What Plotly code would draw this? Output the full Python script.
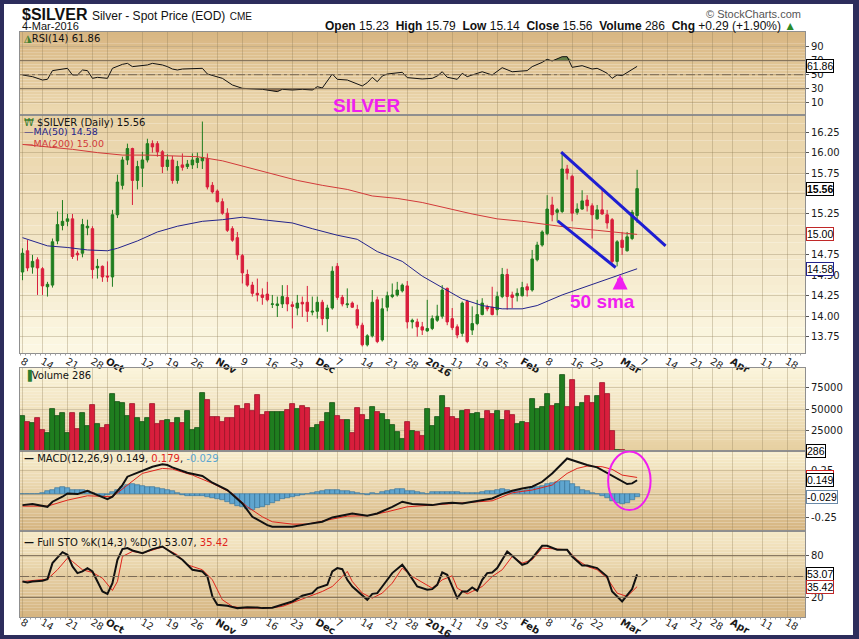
import plotly.graph_objects as go

# ---------------- DATA ----------------
# trading-day index 0 = 8-Sep-2015 ... 123 = 4-Mar-2016
opens = [14.54,14.80,14.60,14.69,14.58,14.36,14.38,14.92,15.11,15.16,
         15.19,14.77,14.77,15.08,15.07,14.59,14.61,14.49,14.48,15.24,
         15.60,15.91,16.05,15.66,15.81,15.91,16.11,16.11,16.01,15.83,
         15.91,15.66,15.85,15.83,15.85,15.88,15.90,15.93,15.60,15.53,
         15.40,15.26,15.07,14.96,14.74,14.51,14.38,14.28,14.26,14.27,
         14.145,14.13,14.15,14.23,14.14,14.10,14.17,14.17,14.05,14.06,
         14.17,13.97,14.10,14.61,14.23,14.14,14.16,14.08,13.89,13.65,
         13.76,14.20,13.71,14.11,14.24,14.26,14.31,14.37,13.93,13.93,
         13.87,13.82,13.85,13.95,14.00,14.34,13.97,13.87,13.79,14.18,
         13.83,13.91,14.02,14.11,14.11,14.08,14.24,14.51,14.26,14.25,
         14.25,14.36,14.32,14.69,14.87,15.01,15.36,15.27,15.28,15.80,
         15.71,15.27,15.31,15.42,15.35,15.19,15.30,15.24,15.18,14.67,
         14.93,14.80,14.95,15.23]
highs = [14.83,14.93,14.75,14.72,14.60,14.42,14.95,15.28,15.42,15.25,
         15.25,14.80,15.19,15.18,15.10,14.70,14.62,14.67,15.30,15.73,
         15.95,16.11,16.06,15.90,16.01,16.17,16.15,16.14,16.03,15.98,
         15.96,15.90,15.99,15.91,15.99,16.00,16.38,15.99,15.64,15.55,
         15.44,15.32,15.10,15.03,14.76,14.57,14.42,14.46,14.34,14.42,
         14.26,14.24,14.38,14.38,14.18,14.26,14.24,14.37,14.24,14.24,
         14.20,14.14,14.61,14.65,14.26,14.34,14.18,14.14,13.92,13.78,
         14.32,14.24,14.22,14.30,14.40,14.42,14.40,14.43,13.97,13.97,
         13.93,14.20,14.01,14.14,14.38,14.35,14.10,13.90,14.18,14.20,
         14.12,14.20,14.22,14.14,14.36,14.30,14.59,14.58,14.30,14.34,
         14.42,14.40,14.81,14.91,15.05,15.48,15.46,15.32,16.01,15.85,
         15.73,15.38,15.54,15.48,15.38,15.36,15.56,15.30,15.20,14.93,
         15.03,15.03,15.30,15.79]
lows = [14.44,14.55,14.52,14.26,14.26,14.24,14.35,14.88,15.05,15.10,
        14.70,14.68,14.72,14.99,14.46,14.46,14.42,14.42,14.36,15.20,
        15.55,15.85,15.36,15.55,15.58,15.88,16.00,15.95,15.75,15.78,
        15.62,15.62,15.78,15.80,15.80,15.81,15.80,15.55,15.50,15.39,
        15.24,15.03,14.91,14.69,14.40,14.36,14.24,14.18,14.14,14.18,
        14.10,13.99,14.10,14.06,13.85,14.01,13.99,13.93,14.01,13.97,
        13.89,13.81,14.08,14.20,14.12,14.10,14.10,13.85,13.63,13.63,
        13.74,13.67,13.69,14.06,14.22,14.24,14.29,13.85,13.85,13.75,
        13.77,13.81,13.83,13.93,13.97,13.89,13.83,13.73,13.75,13.67,
        13.77,13.89,14.01,14.06,14.01,14.01,14.22,14.08,14.10,14.18,
        14.24,14.24,14.30,14.67,14.85,14.99,15.16,15.16,15.26,15.67,
        15.16,15.24,15.30,15.28,14.95,15.18,15.24,15.07,14.65,14.61,
        14.75,14.79,14.93,15.14]
closes = [14.77,14.59,14.67,14.59,14.37,14.39,14.91,15.12,15.16,15.19,
          14.73,14.75,15.12,15.10,14.57,14.61,14.48,14.48,15.24,15.64,
          15.91,16.05,15.66,15.83,15.91,16.11,16.07,16.01,15.83,15.91,
          15.66,15.83,15.82,15.86,15.91,15.93,15.94,15.58,15.52,15.40,
          15.26,15.05,14.93,14.75,14.53,14.38,14.28,14.26,14.23,14.20,
          14.15,14.15,14.24,14.15,14.12,14.16,14.15,14.06,14.06,14.17,
          13.97,14.10,14.55,14.23,14.15,14.15,14.11,13.89,13.65,13.76,
          14.17,13.69,14.09,14.25,14.26,14.32,14.38,13.93,13.95,13.87,
          13.83,13.85,13.97,14.00,14.32,13.93,13.86,13.77,14.16,13.69,
          13.91,14.02,14.16,14.09,14.02,14.24,14.51,14.24,14.23,14.28,
          14.35,14.32,14.70,14.87,15.03,15.31,15.24,15.30,15.80,15.75,
          15.26,15.31,15.41,15.35,15.24,15.30,15.25,15.14,14.67,14.91,
          14.84,14.97,15.27,15.56]
volume = [41660,34920,32930,38890,25000,21030,49600,41660,44840,21820,
          44840,25790,44840,29760,54760,32140,26980,30950,67460,57930,
          56740,41660,55950,39680,34920,38890,55550,32140,36110,36900,
          32930,38890,32930,47620,25000,27380,68650,60710,40080,40870,
          34920,39680,39680,53570,49600,55950,48010,66660,42850,46030,
          46030,46030,46030,48810,55950,49600,53570,50790,27780,30950,
          34520,45630,57540,41660,36900,36900,21030,50790,42850,36900,
          51980,46430,44040,36900,30950,22220,13890,34920,23810,23010,
          17860,49600,29760,40080,65470,50790,40080,37700,47620,48810,
          44040,44840,37700,47620,44040,47620,36900,48010,42460,32140,
          34520,33330,61500,49600,52770,67850,53570,55950,90070,52770,
          84520,51980,57540,65470,56740,65470,80550,67850,23810,900,
          700,600,500,286]

ma50_idx = [0,3,5,9,13,17,19,23,27,31,36,40,44,48,54,58,63,67,71,76,80,84,88,92,96,100,103,108,114,118,123]
ma50_val = [14.96,14.90,14.86,14.84,14.81,14.80,14.83,14.92,15.03,15.10,15.16,15.18,15.21,15.18,15.14,15.07,
            14.99,14.94,14.79,14.67,14.49,14.35,14.21,14.13,14.09,14.09,14.13,14.26,14.39,14.47,14.58]
ma200_idx = [0,5,10,15,20,25,30,35,40,45,50,55,60,65,70,75,80,85,90,95,100,105,110,115,120,123]
ma200_val = [16.10,16.07,16.04,16.00,15.97,15.97,15.96,15.95,15.90,15.82,15.74,15.66,15.60,15.55,15.47,15.44,
             15.39,15.32,15.25,15.19,15.16,15.12,15.08,15.05,15.02,15.00]

rsi_idx = [0,2,4,5,6,8,9,10,11,12,13,14,15,17,18,20,21,22,24,25,26,28,29,30,31,32,36,37,40,42,44,48,51,52,54,
           56,58,59,60,62,63,65,68,69,70,71,72,73,76,77,80,82,83,84,85,87,88,89,90,92,94,96,98,101,102,104,105,
           106,108,109,110,112,114,115,116,117,118,119,120,121,123]
rsi_val = [49.6,47.2,42.4,43.4,55.8,58.1,59.1,49.6,49.6,56.7,55.8,44.8,46.2,44.8,59.1,64.8,66.2,61.5,62.9,63.9,
           66.2,63.9,61.5,58.1,56.7,58.1,59.1,51.0,44.8,35.3,30.5,29.1,25.8,29.1,28.1,29.1,28.1,32.9,31.0,51.0,
           43.4,42.4,33.9,38.6,46.2,40.0,48.1,51.0,53.4,45.8,43.9,44.8,48.1,54.2,46.3,43.4,52.0,47.2,49.6,54.2,
           49.6,60.0,54.2,55.8,61.5,67.6,72.0,69.6,75.7,75.7,60.5,62.9,58.1,59.1,55.8,52.0,44.8,49.6,48.6,52.9,61.86]

macd_idx = [0,2,5,6,8,9,11,13,15,17,18,20,21,24,26,28,29,30,33,36,38,41,44,46,49,50,54,57,60,62,64,66,69,71,74,
            76,78,82,84,86,88,90,92,94,96,98,100,102,104,106,108,109,111,113,115,117,119,121,122,123]
macd_val = [-0.115,-0.104,-0.133,-0.079,-0.026,0.009,0.002,0.038,-0.009,-0.051,-0.026,0.098,0.187,0.250,0.293,
            0.318,0.311,0.286,0.229,0.194,0.123,0.045,-0.097,-0.239,-0.328,-0.345,-0.345,-0.317,-0.292,-0.246,
            -0.221,-0.204,-0.228,-0.204,-0.133,-0.079,-0.104,-0.115,-0.097,-0.090,-0.097,-0.079,-0.062,-0.044,
            0.002,0.037,0.062,0.080,0.133,0.222,0.328,0.381,0.346,0.311,0.286,0.229,0.169,0.109,0.116,0.149]
signal_idx = [0,5,9,13,18,21,24,28,30,34,38,42,45,48,50,54,57,61,65,69,73,77,82,86,90,94,98,102,106,109,111,
              113,116,118,120,123]
signal_val = [-0.126,-0.126,-0.062,-0.016,-0.026,0.098,0.222,0.275,0.268,0.204,0.116,0.009,-0.133,-0.239,-0.292,
              -0.317,-0.317,-0.274,-0.232,-0.228,-0.186,-0.133,-0.115,-0.104,-0.090,-0.069,0.016,0.045,0.098,
              0.222,0.275,0.300,0.293,0.265,0.204,0.179]
hist_val = [0.0,0.0,0.0,0.0,0.01,0.03,0.05,0.07,0.08,0.07,
            0.05,0.05,0.05,0.04,0.01,-0.01,-0.02,-0.01,0.02,0.05,
            0.08,0.10,0.11,0.10,0.09,0.08,0.08,0.07,0.06,0.05,
            0.03,0.01,-0.01,-0.02,-0.02,-0.02,-0.02,-0.03,-0.04,-0.05,
            -0.06,-0.08,-0.10,-0.12,-0.14,-0.16,-0.17,-0.15,-0.13,-0.11,
            -0.09,-0.07,-0.05,-0.04,-0.03,-0.02,-0.01,0.0,0.01,0.02,
            0.04,0.05,0.05,0.05,0.04,0.03,0.02,0.01,0.0,-0.01,
            0.01,0.0,0.02,0.04,0.05,0.06,0.06,0.04,0.03,0.02,
            0.01,0.0,0.02,0.02,0.02,0.02,0.02,0.02,0.01,0.01,
            0.01,0.01,0.02,0.03,0.03,0.05,0.06,0.05,0.04,0.04,
            0.04,0.05,0.07,0.08,0.09,0.11,0.12,0.13,0.14,0.14,
            0.11,0.08,0.05,0.03,0.01,0.0,-0.02,-0.04,-0.07,-0.09,
            -0.10,-0.09,-0.06,-0.029]

stok_idx = [0,1,2,4,5,6,8,9,10,11,12,13,14,15,16,17,18,19,20,21,22,24,26,28,30,32,34,36,37,38,39,41,43,45,47,48,
            50,52,54,56,58,59,61,62,63,64,65,66,68,69,70,71,72,74,76,77,79,81,82,83,84,85,87,88,89,90,91,92,93,94,
            95,97,98,100,101,102,104,105,107,109,110,112,113,115,117,118,120,122,123]
stok_val = [42.8,41.4,42.8,43.8,46.2,69.3,85.1,81.3,64.5,54.9,57.3,62.1,57.3,42.8,28.4,25.0,40.4,74.1,89.5,90.9,
            87.5,83.7,89.5,93.3,83.7,74.1,59.7,57.3,50.0,21.2,9.2,7.7,4.4,5.8,5.3,4.4,4.9,9.2,14.0,22.2,26.0,33.2,
            38.0,57.3,62.1,60.6,45.2,35.6,23.6,16.4,25.0,26.0,35.6,54.9,66.9,57.3,35.6,30.8,31.8,38.0,55.8,52.4,
            18.8,28.4,28.4,34.2,29.3,45.2,54.9,55.8,62.1,86.1,79.8,66.9,69.3,76.5,94.3,94.3,88.5,88.5,78.9,65.9,
            65.9,62.1,50.0,28.4,14.0,31.8,53.07]
stod_idx = [0,5,7,9,10,12,14,16,18,19,20,22,24,27,28,31,33,36,38,40,42,44,49,52,54,57,60,62,64,65,66,68,70,72,
            74,76,78,82,84,86,87,89,90,92,94,96,98,100,102,104,107,109,111,113,115,117,119,121,123]
stod_val = [42.8,46.2,59.7,76.5,71.7,59.7,55.8,47.6,29.9,42.8,78.9,86.1,83.7,89.5,92.4,81.3,66.9,59.7,45.2,16.4,
            6.8,4.4,4.4,6.8,12.5,20.2,28.4,35.6,50.0,57.3,42.8,26.0,18.8,26.0,40.4,62.1,50.0,33.2,45.2,51.0,33.2,
            25.0,28.4,35.6,50.0,59.7,78.9,69.3,74.1,90.9,89.5,88.5,74.1,64.5,59.7,47.6,26.0,21.2,35.42]

tick_idx = [0,4,9,14,17,24,29,34,39,44,49,54,59,63,68,73,77,81,86,91,95,100,105,110,114,120,124,129,134,138,142,148,153]
tick_txt = ["8","14","21","28","Oct","12","19","26","Nov","9","16","23","Dec","7","14","21","28","2016",
            "11","19","25","Feb","8","16","22","Mar","7","14","21","28","Apr","11","18"]
bold_labels = {"Oct", "Nov", "Dec", "2016", "Feb", "Mar", "Apr"}

# right-axis labels (those fully covered by value tags in the reference are left blank)
rsi_ticks, rsi_ticktext = [10, 30, 50, 70, 90], ["10", "30", "50", "70", "90"]
price_ticks = [13.75, 14.00, 14.25, 14.50, 14.75, 15.00, 15.25, 15.50, 15.75, 16.00, 16.25]
price_ticktext = ["13.75", "14.00", "14.25", "14.50", "14.75", "", "15.25", "", "15.75", "16.00", "16.25"]
vol_ticks, vol_ticktext = [25000, 50000, 75000], ["25000", "50000", "75000"]
macd_ticks, macd_ticktext = [-0.25, 0, 0.25], ["-0.25", "", "0.25"]
sto_ticks, sto_ticktext = [20, 50, 80], ["20", "", "80"]

# ---------------- LAYOUT HELPERS ----------------
W, H = 859, 639
ML, MR, MT, MB = 20, 54, 32, 22
PW, PH = W - ML - MR, H - MT - MB


def py(ypx):
    return (H - MB - ypx) / PH


def pxx(xpx):
    return (xpx - ML) / PW


days = list(range(len(closes)))
ticktext = ["<b>%s</b>" % t if t in bold_labels else t for t in tick_txt]
GREEN, GREEN_D = "#1f7d1f", "#145214"
RED, RED_D = "#d81e3c", "#9a1428"
FONT = "DejaVu Sans"
HFONT = "Liberation Sans"

fig = go.Figure()

# RSI
rsi30 = [30 for _ in rsi_val]
rsi70 = [70 for _ in rsi_val]
fig.add_trace(go.Scatter(x=rsi_idx, y=rsi30, mode="lines", line=dict(width=0), xaxis="x", yaxis="y",
                         hoverinfo="skip", showlegend=False))
fig.add_trace(go.Scatter(x=rsi_idx, y=[min(v, 30) for v in rsi_val], mode="lines", line=dict(width=0),
                         fill="tonexty", fillcolor="rgba(120,85,55,0.75)", xaxis="x", yaxis="y",
                         hoverinfo="skip", showlegend=False))
fig.add_trace(go.Scatter(x=rsi_idx, y=rsi70, mode="lines", line=dict(width=0), xaxis="x", yaxis="y",
                         hoverinfo="skip", showlegend=False))
fig.add_trace(go.Scatter(x=rsi_idx, y=[max(v, 70) for v in rsi_val], mode="lines", line=dict(width=0),
                         fill="tonexty", fillcolor="rgba(70,110,50,0.8)", xaxis="x", yaxis="y",
                         hoverinfo="skip", showlegend=False))
fig.add_trace(go.Scatter(x=rsi_idx, y=rsi_val, mode="lines", line=dict(color="#111111", width=1),
                         xaxis="x", yaxis="y", showlegend=False))

# Price
fig.add_trace(go.Scatter(x=ma200_idx, y=ma200_val, mode="lines", line=dict(color="#d23a3a", width=1),
                         xaxis="x2", yaxis="y2", showlegend=False))
fig.add_trace(go.Scatter(x=ma50_idx, y=ma50_val, mode="lines", line=dict(color="#23238c", width=1),
                         xaxis="x2", yaxis="y2", showlegend=False))
fig.add_trace(go.Candlestick(x=days, open=opens, high=highs, low=lows, close=closes,
                             increasing=dict(line=dict(color=GREEN, width=1), fillcolor=GREEN),
                             decreasing=dict(line=dict(color=RED, width=1), fillcolor=RED),
                             xaxis="x2", yaxis="y2", showlegend=False))

# Volume
vcol = [GREEN if c >= o else RED for o, c in zip(opens, closes)]
vline = [GREEN_D if c >= o else RED_D for o, c in zip(opens, closes)]
fig.add_trace(go.Bar(x=days, y=volume, width=1.0, marker=dict(color=vcol, line=dict(color=vline, width=0.8)),
                     xaxis="x3", yaxis="y3", showlegend=False))

# MACD
fig.add_trace(go.Bar(x=days, y=hist_val, width=1.0,
                     marker=dict(color="#5fa5cf", line=dict(color="#2f6f98", width=0.6)),
                     xaxis="x4", yaxis="y4", showlegend=False))
fig.add_trace(go.Scatter(x=signal_idx, y=signal_val, mode="lines", line=dict(color="#e0241c", width=1),
                         xaxis="x4", yaxis="y4", showlegend=False))
fig.add_trace(go.Scatter(x=macd_idx, y=macd_val, mode="lines", line=dict(color="#111111", width=2),
                         xaxis="x4", yaxis="y4", showlegend=False))

# STO
fig.add_trace(go.Scatter(x=stod_idx, y=stod_val, mode="lines", line=dict(color="#e0241c", width=1),
                         xaxis="x5", yaxis="y5", showlegend=False))
fig.add_trace(go.Scatter(x=stok_idx, y=stok_val, mode="lines", line=dict(color="#111111", width=2),
                         xaxis="x5", yaxis="y5", showlegend=False))

# ---------------- AXES ----------------
XR = [-0.5, 156.6]
GRID = "rgba(140,120,85,0.32)"
LINE = "#8f8f8f"


def xax(anchor, labels, standoff=0):
    d = dict(range=XR, anchor=anchor, tickmode="array", tickvals=tick_idx, ticktext=ticktext,
             showticklabels=labels, showgrid=True, gridcolor=GRID, gridwidth=1, zeroline=False,
             showline=True, linecolor=LINE, mirror=True, ticks="", fixedrange=True, automargin=False,
             tickfont=dict(family=FONT, size=10, color="#1a1a1a"))
    if labels:
        d["ticklabelstandoff"] = standoff
    return d


def yax(anchor, dom, rng, vals, txt):
    return dict(domain=dom, range=rng, anchor=anchor, side="right", tickmode="array", tickvals=vals,
                ticktext=txt, showgrid=True, gridcolor=GRID, gridwidth=1, zeroline=False,
                showline=True, linecolor=LINE, mirror=True, ticks="outside", ticklen=3, automargin=False,
                tickcolor="#555555", tickfont=dict(family=FONT, size=10, color="#1a1a1a"), fixedrange=True)


dom_rsi = [py(115), 1.0]
dom_price = [py(353), py(115)]
dom_vol = [py(451), py(368)]
dom_macd = [py(531), py(451)]
dom_sto = [0.0, py(531)]

fig.update_layout(
    template="none",
    xaxis=xax("y", False),
    xaxis2=dict(xax("y2", True, -2), matches="x", rangeslider=dict(visible=False)),
    xaxis3=dict(xax("y3", False), matches="x"),
    xaxis4=dict(xax("y4", False), matches="x"),
    xaxis5=dict(xax("y5", True, -5), matches="x"),
    yaxis=yax("x", dom_rsi, [-7.6, 111], rsi_ticks, rsi_ticktext),
    yaxis2=yax("x2", dom_price, [13.55, 16.46], price_ticks, price_ticktext),
    yaxis3=yax("x3", dom_vol, [0, 98800], vol_ticks, vol_ticktext),
    yaxis4=yax("x4", dom_macd, [-0.39, 0.46], macd_ticks, macd_ticktext),
    yaxis5=yax("x5", dom_sto, [-8.4, 115.6], sto_ticks, sto_ticktext),
)

# ---------------- BACKGROUND / SHAPES ----------------
shapes = []
shapes.append(dict(type="rect", xref="paper", yref="paper", x0=pxx(4), x1=pxx(853), y0=py(635), y1=py(4),
                   fillcolor="white", line=dict(width=0), layer="below"))


def mix(c1, c2, t):
    return "rgb(%d,%d,%d)" % tuple(round(a + (b - a) * t) for a, b in zip(c1, c2))


panels = [
    (32, 115, (216, 182, 130), (237, 218, 178)),
    (115, 353, (232, 209, 165), (252, 248, 228)),
    (368, 451, (251, 245, 220), (230, 207, 160)),
    (451, 531, (248, 238, 206), (213, 180, 128)),
    (531, 617, (246, 234, 200), (213, 180, 128)),
]
NB = 28
for top, bot, ct, cb in panels:
    for i in range(NB):
        y0 = top + (bot - top) * i / NB
        y1 = top + (bot - top) * (i + 1) / NB
        shapes.append(dict(type="rect", xref="paper", yref="paper", x0=0, x1=1, y0=py(y1), y1=py(y0),
                           fillcolor=mix(ct, cb, (i + 0.5) / NB), line=dict(width=0), layer="below"))

# dotted day ticks under the price panel and the stochastic panel
for ybase in (353, 617):
    shapes.append(dict(type="line", xref="paper", yref="paper", x0=0, x1=1, y0=py(ybase + 1.5),
                       y1=py(ybase + 1.5), line=dict(color="#a0a0a0", width=2, dash="1px,4px")))

for yr, v in (("y", 70), ("y", 30), ("y5", 80), ("y5", 20)):
    shapes.append(dict(type="line", xref="paper", yref=yr, x0=0, x1=1, y0=v, y1=v,
                       line=dict(color="#7b6b56", width=1), layer="above"))
for yr in ("y", "y5"):
    shapes.append(dict(type="line", xref="paper", yref=yr, x0=0, x1=1, y0=50, y1=50,
                       line=dict(color="#7b6b56", width=1, dash="dashdot"), layer="above"))

# hand-drawn flag channel (blue) and MACD ellipse (magenta)
shapes.append(dict(type="line", xref="x2", yref="y2", x0=107.8, y0=16.005, x1=128.7, y1=14.86,
                   line=dict(color="#1e1ed2", width=3)))
shapes.append(dict(type="line", xref="x2", yref="y2", x0=107.1, y0=15.166, x1=118.7, y1=14.595,
                   line=dict(color="#1e1ed2", width=3)))
shapes.append(dict(type="circle", xref="x4", yref="y4", x0=117.2, x1=125.7, y0=-0.168, y1=0.455,
                   line=dict(color="#f01ef0", width=2)))
fig.update_layout(shapes=shapes)

# ---------------- TEXT ----------------
ann = []


def label(xpx, ypx, text, size=10, color="#111", family=FONT, xanchor="left"):
    ann.append(dict(xref="paper", yref="paper", x=pxx(xpx), y=py(ypx), text=text, showarrow=False,
                    xanchor=xanchor, yanchor="middle", font=dict(family=family, size=size, color=color)))


label(20, 14, "<b>$SILVER</b> <span style='font-size:12px'>Silver - Spot Price (EOD)</span> "
      "<span style='font-size:10px'>CME</span>", size=16, family=HFONT)
label(20, 26, "4-Mar-2016", size=11, family=HFONT)
label(803, 14, "© StockCharts.com", size=11, color="#555555", family=HFONT, xanchor="right")
label(798, 26, "<b>Open</b> 15.23  <b>High</b> 15.79  <b>Low</b> 15.14  <b>Close</b> 15.56  "
      "<b>Volume</b> 286  <b>Chg</b> +0.29 (+1.90%) <span style='color:#2a8a2a'>▲</span>",
      size=12, family=HFONT, xanchor="right")

label(22, 39, "<span style='color:#3f7f2f'>◮</span>RSI(14) 61.86", size=10)
label(22, 122, "<span style='color:#3f7f2f'>₩</span> $SILVER (Daily) 15.56", size=10)
label(22, 132, "<span style='color:#23238c'>—MA(50) 14.58</span>", size=9.5)
label(22, 143, "<span style='color:#d23a3a'>—MA(200) 15.00</span>", size=9.5)
label(22, 375, "<span style='color:#2d7d2d'>▐</span>Volume 286", size=10)
label(22, 458, "<b>—</b> MACD(12,26,9) 0.149, <span style='color:#e0241c'>0.179</span>, "
      "<span style='color:#5aa6d2'>-0.029</span>", size=10)
label(22, 542, "<b>—</b> Full STO %K(14,3) %D(3) 53.07, <span style='color:#e0241c'>35.42</span>", size=10)

label(366, 105, "<b>SILVER</b>", size=19, color="#f01ef0", family=HFONT, xanchor="center")
label(602, 301, "<b>50 sma</b>", size=19, color="#f01ef0", family=HFONT, xanchor="center")
ann.append(dict(xref="x2", yref="y2", x=119.6, y=14.51, ax=0, ay=16, showarrow=True, arrowhead=2,
                arrowsize=0.5, arrowwidth=6, arrowcolor="#f01ef0", text=""))


def tag(yref, y, text, border, bold=False):
    ann.append(dict(xref="paper", yref=yref, x=1, y=y, xanchor="left", yanchor="middle", xshift=1,
                    text=("<b>%s</b>" % text) if bold else text, showarrow=False, bgcolor="white",
                    bordercolor=border, borderwidth=1, borderpad=0,
                    font=dict(family=HFONT, size=10.5, color="#000")))


tag("y", 61.86, "61.86", "#000")
tag("y2", 15.56, "15.56", "#000", bold=True)
tag("y2", 15.00, "15.00", "#c02828")
tag("y2", 14.58, "14.58", "#23238c")
tag("y3", 286, "286", "#000")
tag("y4", 0.179, "0.179", "#d82020")
tag("y4", 0.149, "0.149", "#000")
tag("y4", -0.029, "-0.029", "#6a8aa8")
tag("y5", 53.07, "53.07", "#000")
tag("y5", 35.42, "35.42", "#c02828")

fig.update_layout(
    annotations=ann,
    width=W, height=H, margin=dict(l=ML, r=MR, t=MT, b=MB, autoexpand=False),
    paper_bgcolor="#2d2d5c", plot_bgcolor="rgba(0,0,0,0)",
    showlegend=False, bargap=0,
)

fig.write_html("out.html", config={"displayModeBar": False},
               post_script="document.body.style.margin='0';document.body.style.overflow='hidden';")
